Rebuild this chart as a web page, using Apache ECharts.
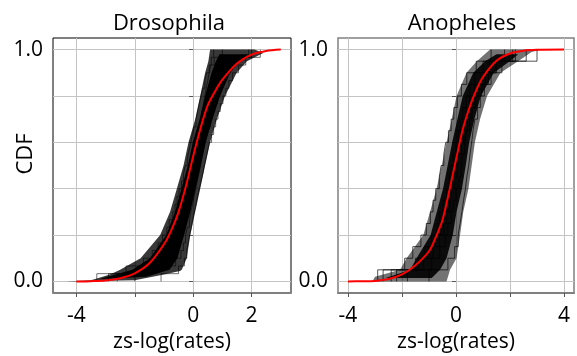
<!DOCTYPE html>
<html>
<head>
<meta charset="utf-8">
<script src="https://cdn.jsdelivr.net/npm/echarts@6/dist/echarts.min.js"></script>
<style>
html, body { margin: 0; padding: 0; background: #fff; }
#chart { width: 577px; height: 356px; }
</style>
</head>
<body>
<div id="chart"></div>
<script>
var titles = ['Drosophila', 'Anopheles'];
var xName = 'zs-log(rates)';
var yName = 'CDF';

// fitted CDF (red)
var droRedX = [-4, -3.5, -3, -2.5, -2, -1.5, -1, -0.75, -0.5, -0.25, 0, 0.25, 0.5, 0.75, 1, 1.5, 2, 2.5, 3];
var droRedY = [0, 0.001, 0.004, 0.014, 0.035, 0.078, 0.16, 0.22, 0.30, 0.41, 0.54, 0.66, 0.76, 0.82, 0.87, 0.94, 0.978, 0.994, 1.0];
var anoRedX = [-4, -3.5, -3, -2.5, -2, -1.5, -1, -0.75, -0.5, -0.25, 0, 0.25, 0.5, 0.75, 1, 1.5, 2, 2.5, 3, 4];
var anoRedY = [0, 0.0005, 0.002, 0.01, 0.03, 0.07, 0.13, 0.19, 0.265, 0.39, 0.525, 0.655, 0.75, 0.825, 0.882, 0.952, 0.983, 0.995, 0.999, 1.0];

// outline of the bundle of empirical CDFs (left edge bottom->top, right edge top->bottom)
var droEdgeX = [-4.4, -3.5, -2.85, -2.5, -1.8, -1.13, -0.79, -0.56, -0.33, -0.16, 0.07, 0.24, 0.41, 0.52, 0.58,
                2.1, 2.4, 1.84, 1.49, 1.09, 0.81, 0.58, 0.41, 0.24, 0.07, -0.1, -0.22, -0.39, -0.45, -1.0, -2.0, -4.4];
var droEdgeY = [0, 0.005, 0.03, 0.05, 0.1, 0.2, 0.3, 0.4, 0.5, 0.6, 0.7, 0.8, 0.9, 0.95, 1.0,
                1.0, 0.985, 0.95, 0.9, 0.8, 0.7, 0.6, 0.5, 0.4, 0.3, 0.2, 0.1, 0.05, 0.045, 0.03, 0.005, 0];
// dense core of the same bundle
var droCoreX = [-3.2, -2.08, -1.48, -0.92, -0.62, -0.40, -0.18, -0.01, 0.22, 0.41, 0.63, 0.78, 0.9,
                1.9, 1.58, 1.27, 0.92, 0.66, 0.43, 0.26, 0.08, -0.10, -0.31, -0.54, -0.81, -1.6];
var droCoreY = [0.01, 0.05, 0.1, 0.2, 0.3, 0.4, 0.5, 0.6, 0.7, 0.8, 0.9, 0.95, 0.98,
                0.98, 0.95, 0.9, 0.8, 0.7, 0.6, 0.5, 0.4, 0.3, 0.2, 0.1, 0.05, 0.02];
var anoEdgeX = [-3.1, -3.0, -2.07, -1.83, -1.21, -0.96, -0.72, -0.53, -0.35, -0.16, 0.02, 0.39, 0.77, 1.26,
                3.2, 2.8, 2.3, 1.65, 1.15, 0.89, 0.7, 0.58, 0.46, 0.27, 0.15, 0.02, -0.22, -0.35];
var anoEdgeY = [0, 0.02, 0.05, 0.1, 0.2, 0.3, 0.4, 0.5, 0.6, 0.7, 0.8, 0.9, 0.95, 1.0,
                1.0, 0.99, 0.95, 0.9, 0.8, 0.7, 0.6, 0.5, 0.4, 0.3, 0.2, 0.1, 0.05, 0.0];
var anoCoreX = [-2.6, -1.7, -1.46, -0.94, -0.71, -0.48, -0.31, -0.14, 0.05, 0.25, 0.64, 1.08, 1.5,
                2.3, 1.99, 1.40, 0.92, 0.68, 0.49, 0.36, 0.22, 0.02, -0.12, -0.35, -0.59, -0.9];
var anoCoreY = [0.015, 0.05, 0.1, 0.2, 0.3, 0.4, 0.5, 0.6, 0.7, 0.8, 0.9, 0.95, 0.98,
                0.98, 0.95, 0.9, 0.8, 0.7, 0.6, 0.5, 0.4, 0.3, 0.2, 0.1, 0.05, 0.015];

// a few individual samples (sorted values) drawn as step CDFs
var droSamples = [
    [-2.9, -2.3, -1.7, -1.4, -1.2, -1.05, -0.9, -0.82, -0.7, -0.62, -0.55, -0.48, -0.4, -0.33, -0.27,
     -0.2, -0.14, -0.08, -0.03, 0.03, 0.1, 0.15, 0.21, 0.27, 0.33, 0.4, 0.46, 0.55, 0.62, 0.7],
    [-1.1, -0.5, -0.3, -0.22, -0.17, -0.12, -0.06, -0.02, 0.04, 0.1, 0.15, 0.21, 0.27, 0.33, 0.38,
     0.44, 0.5, 0.56, 0.63, 0.7, 0.77, 0.85, 0.93, 1.02, 1.12, 1.22, 1.35, 1.55, 1.8, 2.3],
    [-2.6, -1.9, -1.35, -1.0, -0.8, -0.66, -0.55, -0.45, -0.37, -0.3, -0.22, -0.15, -0.1, -0.04, 0.02,
     0.08, 0.13, 0.18, 0.23, 0.29, 0.35, 0.42, 0.5, 0.58, 0.68, 0.78, 0.92, 1.1, 1.35, 1.9],
    [-3.3, -1.5, -0.6, -0.42, -0.33, -0.26, -0.2, -0.13, -0.08, -0.02, 0.03, 0.09, 0.14, 0.2, 0.25,
     0.3, 0.36, 0.41, 0.47, 0.53, 0.6, 0.67, 0.74, 0.83, 0.92, 1.0, 1.12, 1.28, 1.5, 2.0],
    [-2.0, -1.5, -1.2, -0.95, -0.78, -0.65, -0.55, -0.46, -0.38, -0.3, -0.24, -0.18, -0.12, -0.06, -0.01,
     0.04, 0.09, 0.13, 0.17, 0.22, 0.27, 0.31, 0.36, 0.4, 0.45, 0.5, 0.55, 0.6, 0.72, 1.0]
];
var anoSamples = [
    [-2.9, -1.9, -1.6, -1.3, -1.1, -0.95, -0.85, -0.75, -0.62, -0.55, -0.45, -0.38, -0.28, -0.18, -0.08, 0.05, 0.2, 0.4, 0.75, 1.3],
    [-1.0, -0.3, -0.05, 0.08, 0.15, 0.22, 0.28, 0.35, 0.4, 0.47, 0.52, 0.58, 0.63, 0.7, 0.8, 0.9, 1.05, 1.3, 1.7, 2.6],
    [-2.4, -1.5, -1.0, -0.75, -0.55, -0.42, -0.3, -0.2, -0.12, -0.05, 0.02, 0.1, 0.18, 0.27, 0.37, 0.5, 0.68, 0.9, 1.25, 2.1],
    [-2.7, -1.2, -0.85, -0.62, -0.45, -0.35, -0.22, -0.15, -0.05, 0.05, 0.12, 0.2, 0.3, 0.42, 0.55, 0.7, 0.85, 1.1, 1.5, 3.0],
    [-1.8, -1.4, -1.15, -0.9, -0.7, -0.6, -0.48, -0.35, -0.25, -0.18, -0.1, 0.0, 0.08, 0.16, 0.25, 0.38, 0.52, 0.7, 1.0, 1.8],
    [-2.2, -0.9, -0.6, -0.4, -0.3, -0.18, -0.1, 0.0, 0.1, 0.18, 0.25, 0.33, 0.4, 0.5, 0.6, 0.75, 0.95, 1.2, 1.45, 2.2]
];

var droTicks = [-4, -2, 0, 2];
var droLabels = [-4, 0, 2];
var anoTicks = [-4, -2, 0, 2, 4];
var anoLabels = [-4, 0, 4];
var yTicks = [0, 0.2, 0.4, 0.6, 0.8, 1.0];
var yLabels = [0, 1];

var font = 'Open Sans';

function pairs(xs, ys) {
    return xs.map(function(x, i) { return [x, ys[i]]; });
}

function ecdf(values) {
    var n = values.length;
    var pts = [[values[0], 0]];
    values.forEach(function(v, i) { pts.push([v, (i + 1) / n]); });
    return pts;
}

function bundle(idx, xs, ys, fill, z) {
    return {
        type: 'custom',
        xAxisIndex: idx,
        yAxisIndex: idx,
        data: [[0, 0]],
        silent: true,
        z: z,
        renderItem: function(params, api) {
            var pts = xs.map(function(x, i) { return api.coord([x, ys[i]]); });
            return { type: 'polygon', shape: { points: pts }, style: { fill: fill } };
        }
    };
}

function xAxis(idx, min, max, ticks, labels) {
    return {
        type: 'value', gridIndex: idx, min: min, max: max,
        name: xName, nameLocation: 'middle', nameGap: 27,
        nameTextStyle: { fontFamily: font, fontSize: 21, color: '#000' },
        axisLine: { show: true, onZero: false, lineStyle: { color: '#808080', width: 2 } },
        axisTick: { show: true, length: 4, customValues: ticks, lineStyle: { color: '#555' } },
        axisLabel: { customValues: labels, margin: 13, fontFamily: font, fontSize: 21, color: '#000' },
        splitLine: { show: true, lineStyle: { color: '#c4c4c4', width: 1 } }
    };
}

function yAxis(idx) {
    return {
        type: 'value', gridIndex: idx, min: -0.05, max: 1.05,
        axisLine: { show: false },
        axisTick: { show: true, length: 4, customValues: yTicks, lineStyle: { color: '#555' } },
        axisLabel: {
            customValues: yLabels, margin: 10, fontFamily: font, fontSize: 21, color: '#000',
            formatter: function(v) { return v.toFixed(1); }
        },
        splitLine: { show: true, lineStyle: { color: '#c4c4c4', width: 1 } }
    };
}

var series = [
    bundle(0, droEdgeX, droEdgeY, 'rgba(0,0,0,0.78)', 1),
    bundle(0, droCoreX, droCoreY, '#000', 1),
    bundle(1, anoEdgeX, anoEdgeY, 'rgba(0,0,0,0.55)', 1),
    bundle(1, anoCoreX, anoCoreY, 'rgba(0,0,0,0.9)', 1)
];
droSamples.forEach(function(s) {
    series.push({
        type: 'line', xAxisIndex: 0, yAxisIndex: 0, data: ecdf(s), step: 'end',
        showSymbol: false, silent: true, z: 2,
        lineStyle: { color: '#000', width: 0.7, opacity: 0.8 }
    });
});
anoSamples.forEach(function(s) {
    series.push({
        type: 'line', xAxisIndex: 1, yAxisIndex: 1, data: ecdf(s), step: 'end',
        showSymbol: false, silent: true, z: 2,
        lineStyle: { color: '#000', width: 0.8, opacity: 0.85 }
    });
});
series.push({
    type: 'line', xAxisIndex: 0, yAxisIndex: 0, data: pairs(droRedX, droRedY),
    smooth: 0.3, showSymbol: false, silent: true, z: 5,
    lineStyle: { color: '#ff0000', width: 2 }
});
series.push({
    type: 'line', xAxisIndex: 1, yAxisIndex: 1, data: pairs(anoRedX, anoRedY),
    smooth: 0.3, showSymbol: false, silent: true, z: 5,
    lineStyle: { color: '#ff0000', width: 2 }
});

var option = {
    backgroundColor: '#fff',
    animation: false,
    title: [
        { text: titles[0], left: 164, top: 8, textAlign: 'center',
          textStyle: { fontFamily: font, fontSize: 22, fontWeight: 'normal', color: '#000' } },
        { text: titles[1], left: 457, top: 8, textAlign: 'center',
          textStyle: { fontFamily: font, fontSize: 22, fontWeight: 'normal', color: '#000' } }
    ],
    graphic: [{
        type: 'text', x: 26, y: 154, rotation: Math.PI / 2,
        style: { text: yName, fontFamily: font, fontSize: 22, fill: '#000', align: 'center', verticalAlign: 'middle' }
    }],
    grid: [
        { left: 53, right: 286, top: 38, bottom: 63, containLabel: false, outerBoundsMode: 'none',
          show: true, borderColor: '#000', borderWidth: 1 },
        { left: 338, right: 3, top: 38, bottom: 63, containLabel: false, outerBoundsMode: 'none',
          show: true, borderColor: '#808080', borderWidth: 1.5 }
    ],
    xAxis: [
        xAxis(0, -4.8, 3.35, droTicks, droLabels),
        xAxis(1, -4.37, 4.37, anoTicks, anoLabels)
    ],
    yAxis: [yAxis(0), yAxis(1)],
    series: series
};

var myChart = echarts.init(document.getElementById('chart'));
myChart.setOption(option);
</script>
</body>
</html>
